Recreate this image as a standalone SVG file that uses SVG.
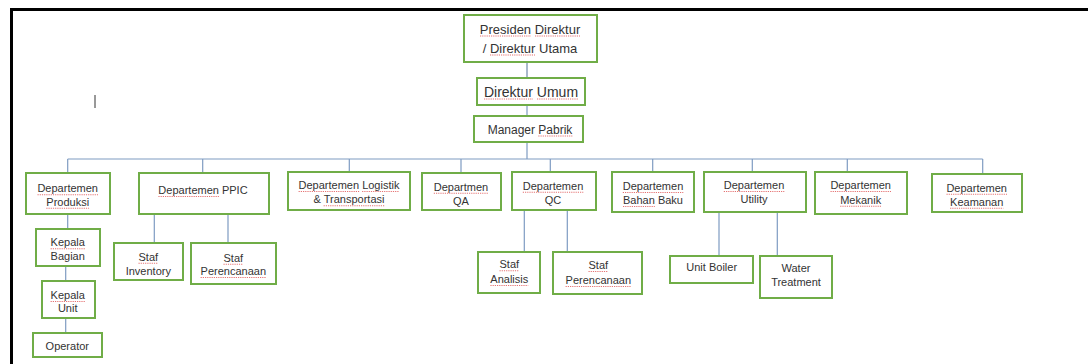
<svg xmlns="http://www.w3.org/2000/svg" width="1088" height="364" viewBox="0 0 1088 364">
<style>
.box{fill:#fff;stroke:#70ad47;stroke-width:2}
.t{font-family:"Liberation Sans",Arial,sans-serif;font-size:11px;fill:#333;text-anchor:middle}
.t13{font-size:13px}
.t14{font-size:14px}
.t12{font-size:12px}
.sq{stroke:#e05a5a;stroke-width:1.1;stroke-dasharray:1.2 1;fill:none;opacity:0.85}
.c{stroke:#7f9cc2;stroke-width:1.2;fill:none}
.c2{stroke:#a9b8cb;stroke-width:2;fill:none}
</style>
<rect width="1088" height="364" fill="#fff"/>
<path d="M10,9.5 H1088 M11.5,8 V364" stroke="#000" stroke-width="3" fill="none"/>
<path d="M95,95 V108" stroke="#333" stroke-width="1"/>
<g id="connectors">
<path class="c2" d="M527,62 V78"/>
<path class="c" d="M527,105 V116 M527,142 V159 M67.7,159 H982.7"/>
<path class="c" d="M67.7,159 V173 M202.7,159 V173 M349.3,159 V172 M461,159 V173 M550.3,159 V172 M652.7,159 V172 M752.3,159 V172 M847.3,159 V172 M982.7,159 V174"/>
<path class="c" d="M67.7,214 V229 M65.7,266 V281 M65.7,318 V333"/>
<path class="c" d="M154.3,214 V243 M228,214 V243"/>
<path class="c" d="M524.3,210 V252 M567.3,210 V252"/>
<path class="c" d="M719,212 V256 M777.3,212 V256"/>
</g>
<g id="presiden"><rect class="box" x="464" y="15" width="133" height="47"/><text class="t t13" x="530" y="33.5">Presiden Direktur</text><text class="t t13" x="530" y="52.5">/ Direktur Utama</text><path class="sq" d="M480,36 H531 M535,36 H580 M490,55 H535"/></g>
<g id="direktur-umum"><rect class="box" x="477" y="78" width="108" height="27"/><text class="t t14" x="531" y="96.5">Direktur Umum</text><path class="sq" d="M484,99 H533 M537,99 H578"/></g>
<g id="manager"><rect class="box" x="474" y="116" width="109" height="26"/><text class="t t12" x="530" y="133.5">Manager Pabrik</text><path class="sq" d="M538.3,136 H572.3"/></g>
<g id="produksi"><rect class="box" x="26" y="173" width="84" height="41"/><text class="t" x="67.7" y="192.3">Departemen</text><text class="t" x="67.7" y="205.7">Produksi</text><path class="sq" d="M37.5,194.8 H98 M46.3,208.2 H89.1"/></g>
<g id="ppic"><rect class="box" x="139" y="173" width="130" height="41"/><text class="t" x="203" y="194">Departemen PPIC</text><path class="sq" d="M158.4,196.5 H218.9"/></g>
<g id="logistik"><rect class="box" x="288" y="172" width="122" height="38"/><text class="t" x="349" y="189">Departemen Logistik</text><text class="t" x="349" y="203.3">&amp; Transportasi</text><path class="sq" d="M298.6,191.5 H359.1 M362.1,191.5 H399.4 M323.6,205.8 H384.7"/></g>
<g id="qa"><rect class="box" x="422" y="173" width="79" height="37"/><text class="t" x="461" y="190.7">Departmen</text><text class="t" x="461" y="204.7">QA</text><path class="sq" d="M433.8,193.2 H488.2"/></g>
<g id="qc"><rect class="box" x="512" y="172" width="84" height="38"/><text class="t" x="553" y="189.7">Departemen</text><text class="t" x="553" y="204">QC</text><path class="sq" d="M522.8,192.2 H583.3"/></g>
<g id="bahan-baku"><rect class="box" x="612" y="172" width="82" height="40"/><text class="t" x="653" y="190">Departemen</text><text class="t" x="653" y="204">Bahan Baku</text><path class="sq" d="M622.8,192.5 H683.3 M623,206.5 H654.8"/></g>
<g id="utility"><rect class="box" x="704" y="172" width="102" height="40"/><text class="t" x="754" y="189">Departemen</text><text class="t" x="754" y="203.3">Utility</text><path class="sq" d="M723.8,191.5 H784.3"/></g>
<g id="mekanik"><rect class="box" x="815" y="172" width="92" height="42"/><text class="t" x="860.7" y="189">Departemen</text><text class="t" x="860.7" y="203.7">Mekanik</text><path class="sq" d="M830.5,191.5 H891 M840.2,206.2 H881.2"/></g>
<g id="keamanan"><rect class="box" x="932" y="174" width="90" height="38"/><text class="t" x="976.7" y="191.7">Departemen</text><text class="t" x="976.7" y="205.7">Keamanan</text><path class="sq" d="M946.5,194.2 H1007 M950.1,208.2 H1003.3"/></g>
<g id="kepala-bagian"><rect class="box" x="36" y="229" width="64" height="37"/><text class="t" x="67.7" y="246.3">Kepala</text><text class="t" x="67.7" y="259.7">Bagian</text><path class="sq" d="M50.6,248.8 H84.8"/></g>
<g id="kepala-unit"><rect class="box" x="42" y="281" width="53" height="37"/><text class="t" x="67.7" y="299">Kepala</text><text class="t" x="67.7" y="312.3">Unit</text><path class="sq" d="M50.6,301.5 H84.8"/></g>
<g id="operator"><rect class="box" x="33" y="333" width="69" height="24"/><text class="t" x="67.3" y="349.7">Operator</text></g>
<g id="staf-inventory"><rect class="box" x="114" y="243" width="69" height="37"/><text class="t" x="148.3" y="260.7">Staf</text><text class="t" x="148.3" y="274.7">Inventory</text><path class="sq" d="M138.5,263.2 H158.1"/></g>
<g id="staf-perencanaan-ppic"><rect class="box" x="191" y="243" width="85" height="41"/><text class="t" x="233.3" y="261.7">Staf</text><text class="t" x="233.3" y="275">Perencanaan</text><path class="sq" d="M223.5,264.2 H243.1 M200.6,277.5 H266"/></g>
<g id="staf-analisis"><rect class="box" x="478" y="252" width="62" height="41"/><text class="t" x="509.3" y="268.3">Staf</text><text class="t" x="509.3" y="283">Analisis</text><path class="sq" d="M499.5,270.8 H519.1 M490.4,285.5 H528.2"/></g>
<g id="staf-perencanaan-qc"><rect class="box" x="553" y="252" width="89" height="42"/><text class="t" x="598.3" y="269">Staf</text><text class="t" x="598.3" y="284">Perencanaan</text><path class="sq" d="M588.5,271.5 H608.1 M565.6,286.5 H631"/></g>
<g id="unit-boiler"><rect class="box" x="670" y="256" width="83" height="27"/><text class="t" x="711.7" y="271">Unit Boiler</text></g>
<g id="water-treatment"><rect class="box" x="760" y="256" width="72" height="42"/><text class="t" x="796" y="271.7">Water</text><text class="t" x="796" y="286.3">Treatment</text></g>
</svg>
